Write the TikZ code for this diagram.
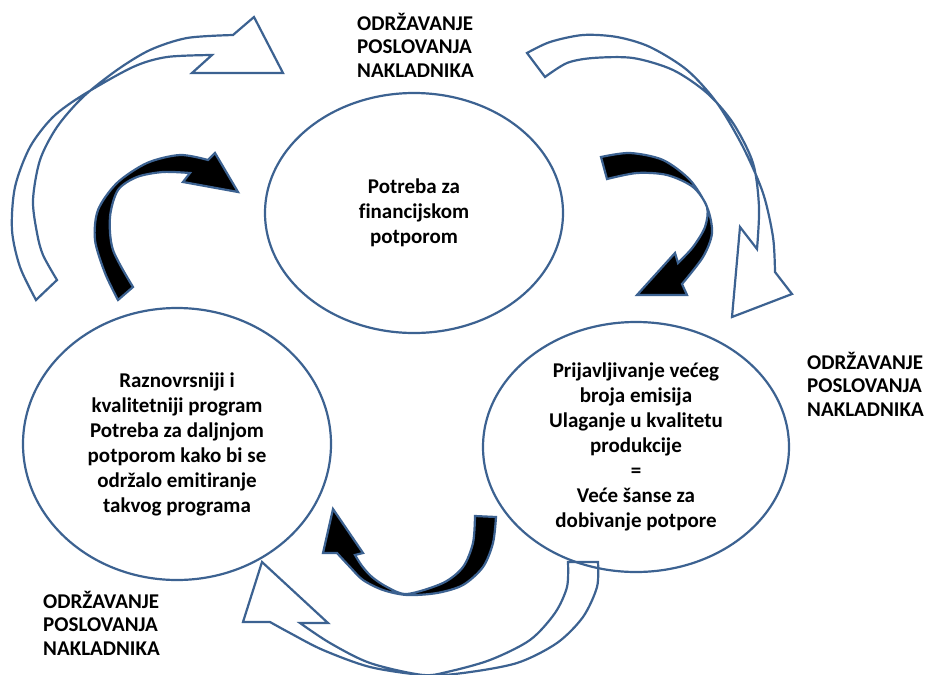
\documentclass[tikz,border=0pt]{standalone}
\usepackage{fontspec}
\setmainfont{Carlito}[Ligatures=NoCommon]
\usetikzlibrary{shapes.geometric}
\definecolor{bordc}{RGB}{60,98,145}
\begin{document}
\begin{tikzpicture}[x=1pt,y=-1pt]
\tikzset{
  ring/.style={ellipse, draw=bordc, line width=2.2pt, inner sep=0pt, align=center,
    font=\bfseries\fontsize{21}{25}\selectfont},
  whitearrow/.style={draw=bordc, fill=white, line width=2.2pt, line join=miter},
  blackarrow/.style={draw=bordc, fill=black, line width=2.2pt, line join=miter},
  lbl/.style={font=\bfseries\fontsize{21}{23.4}\selectfont, align=left, anchor=base west, inner sep=0pt},
}
\useasboundingbox (0,0) rectangle (927,675);
\fill[white] (0,0) rectangle (927,675);

% outer white arrows
\filldraw[whitearrow] plot[smooth] coordinates {(36,300) (20,267) (12,230) (15,187) (30,147) (53,117) (83,95) (133,67) (167,57) (212,55)}
  -- (192,73) -- (283,73) -- (254,17) -- (233,35)
  -- plot[smooth] coordinates {(233,35) (187,38) (150,50) (117,70) (83,97) (57,127) (40,160) (33,200) (37,233) (43,255) (57,280)} -- cycle;

\filldraw[whitearrow] plot[smooth] coordinates {(527,53) (550,42) (583,35) (617,37) (650,47) (687,70) (717,103) (743,147) (763,193) (773,237) (775,272)}
  -- (792,294) -- (732,317) -- (740,227) -- (757,249)
  -- plot[smooth] coordinates {(757,249) (759,207) (753,163) (733,123) (707,93) (673,70) (633,58) (593,58) (567,63) (545,77)} -- cycle;

\filldraw[whitearrow] plot[smooth] coordinates {(568,562) (567,587) (555,613) (530,640) (490,660) (447,672) (423,675) (370,667) (323,650) (290,633) (270,622)}
  -- (243,622) -- (262,562) -- (328,623) -- (300,623)
  -- plot[smooth] coordinates {(300,623) (330,643) (370,663) (423,675) (463,673) (517,663) (557,643) (583,617) (597,587) (598,562)} -- cycle;

% inner black arrows
\filldraw[blackarrow] plot[smooth] coordinates {(118,300) (105,273) (95,240) (98,210) (117,183) (147,163) (180,155) (208,160)}
  -- (215,153) -- (238,192) -- (183,182) -- (190,173)
  -- plot[smooth] coordinates {(190,173) (163,172) (137,177) (118,190) (110,217) (113,250) (133,287)} -- cycle;

\filldraw[blackarrow] plot[smooth] coordinates {(601,157) (630,153) (663,160) (690,180) (707,207) (712,233) (703,257) (682,284)}
  -- (687,295) -- (637,295) -- (675,253) -- (678,263)
  -- plot[smooth] coordinates {(678,263) (693,247) (705,227) (707,207) (693,187) (667,175) (637,173) (607,179)} -- cycle;

\filldraw[blackarrow] plot[smooth] coordinates {(496,517) (493,543) (483,567) (463,585) (437,593) (407,595) (383,590) (363,580) (350,567) (337,553)}
  -- (323,553) -- (333,509) -- (363,553) -- (355,555)
  -- plot[smooth] coordinates {(355,555) (362,566) (372,577) (387,587) (407,594) (443,583) (463,567) (473,543) (475,516)} -- cycle;

% ellipses
\node[ring, minimum width=298pt, minimum height=240pt] (top) at (414,213) {Potreba za\\financijskom\\potporom};
\node[ring, minimum width=308pt, minimum height=272pt] (left) at (177,444) {Raznovrsniji i\\kvalitetniji program\\Potreba za daljnjom\\potporom kako bi se\\održalo emitiranje\\takvog programa};
\node[ring, minimum width=306pt, minimum height=250pt] (right) at (636,447) {Prijavljivanje većeg\\broja emisija\\Ulaganje u kvalitetu\\produkcije\\=\\Veće šanse za\\dobivanje potpore};

% labels (anchor = baseline of last line)
\node[lbl] (ltop) at (357,77) {ODRŽAVANJE\\POSLOVANJA\\NAKLADNIKA};
\node[lbl] (lright) at (807,416) {ODRŽAVANJE\\POSLOVANJA\\NAKLADNIKA};
\node[lbl] (lbottom) at (43,655) {ODRŽAVANJE\\POSLOVANJA\\NAKLADNIKA};
\end{tikzpicture}
\end{document}
